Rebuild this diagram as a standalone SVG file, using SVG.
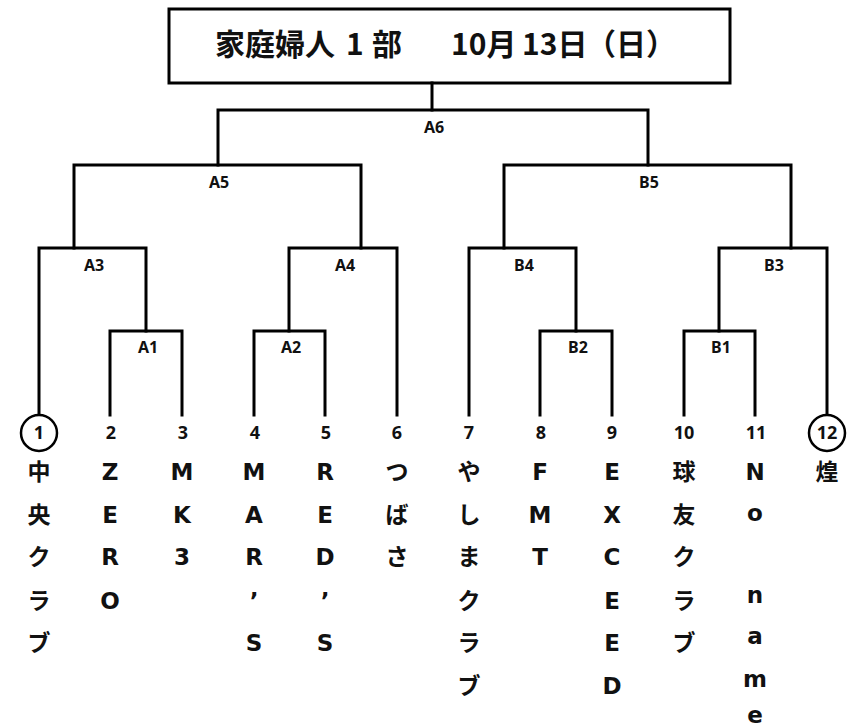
<svg xmlns="http://www.w3.org/2000/svg" width="850" height="728" viewBox="0 0 850 728">
<style>
.ln{stroke:#000;stroke-width:3;fill:none;stroke-linecap:square}
.box{stroke:#000;stroke-width:3;fill:#fff}
.circ{stroke:#000;stroke-width:2.5;fill:#fff}
text{font-weight:bold;fill:#111;text-anchor:middle}
.title{font-family:"Noto Sans CJK JP",sans-serif;font-size:30px;text-anchor:start}
.lbl{font-family:"Noto Sans","Noto Sans CJK JP",sans-serif;font-size:16px}
.num{font-family:"Noto Sans","Noto Sans CJK JP",sans-serif;font-size:18px}
.nm{font-family:"DejaVu Sans","Noto Sans CJK JP",sans-serif;font-size:23px}
</style>
<rect width="850" height="728" fill="#fff"/>
<g id="title">
<rect class="box" x="169" y="9" width="561" height="74"/>
<text class="title" x="215" y="55">家庭婦人</text>
<text class="title" x="346" y="55">1</text>
<text class="title" x="372" y="55">部</text>
<text class="title" x="451" y="55">10月</text>
<text class="title" x="522" y="55">13日</text>
<text class="title" x="586" y="55">（日）</text>
</g>
<g id="connectors">
<path class="ln" d="M432 83V110"/>
<path class="ln" d="M218 165V110H648V165"/>
<path class="ln" d="M74 248V165H361V248"/>
<path class="ln" d="M504 248V165H791V248"/>
<path class="ln" d="M39 415V248H146V331"/>
<path class="ln" d="M110 415V331H182V415"/>
<path class="ln" d="M289 331V248H397V415"/>
<path class="ln" d="M254 415V331H325V415"/>
<path class="ln" d="M469 415V248H576V331"/>
<path class="ln" d="M540 415V331H612V415"/>
<path class="ln" d="M719 331V248H827V415"/>
<path class="ln" d="M684 415V331H755V415"/>
</g>
<g id="matches">
<g id="m-A6"><text class="lbl" x="434" y="133">A6</text></g>
<g id="m-A5"><text class="lbl" x="219" y="188">A5</text></g>
<g id="m-B5"><text class="lbl" x="649" y="188">B5</text></g>
<g id="m-A3"><text class="lbl" x="94" y="271">A3</text></g>
<g id="m-A4"><text class="lbl" x="345" y="271">A4</text></g>
<g id="m-B4"><text class="lbl" x="524" y="271">B4</text></g>
<g id="m-B3"><text class="lbl" x="774" y="271">B3</text></g>
<g id="m-A1"><text class="lbl" x="148" y="353">A1</text></g>
<g id="m-A2"><text class="lbl" x="291" y="353">A2</text></g>
<g id="m-B2"><text class="lbl" x="578" y="353">B2</text></g>
<g id="m-B1"><text class="lbl" x="721" y="353">B1</text></g>
</g>
<g id="team1"><circle class="circ" cx="39" cy="433" r="18"/><text class="num" x="39" y="439">1</text>
<text class="nm" x="39" y="480">中</text><text class="nm" x="39" y="523">央</text><text class="nm" x="39" y="565">ク</text><text class="nm" x="39" y="609">ラ</text><text class="nm" x="39" y="651">ブ</text></g>
<g id="team2"><text class="num" x="111" y="439">2</text>
<text class="nm" x="110" y="480">Z</text><text class="nm" x="110" y="523">E</text><text class="nm" x="110" y="565">R</text><text class="nm" x="110" y="609">O</text></g>
<g id="team3"><text class="num" x="183" y="439">3</text>
<text class="nm" x="182" y="480">M</text><text class="nm" x="182" y="523">K</text><text class="nm" x="182" y="565">3</text></g>
<g id="team4"><text class="num" x="255" y="439">4</text>
<text class="nm" x="254" y="480">M</text><text class="nm" x="254" y="523">A</text><text class="nm" x="254" y="565">R</text><text class="nm" x="254" y="609">’</text><text class="nm" x="254" y="651">S</text></g>
<g id="team5"><text class="num" x="326" y="439">5</text>
<text class="nm" x="325" y="480">R</text><text class="nm" x="325" y="523">E</text><text class="nm" x="325" y="565">D</text><text class="nm" x="325" y="609">’</text><text class="nm" x="325" y="651">S</text></g>
<g id="team6"><text class="num" x="397" y="439">6</text>
<text class="nm" x="397" y="480">つ</text><text class="nm" x="397" y="523">ば</text><text class="nm" x="397" y="565">さ</text></g>
<g id="team7"><text class="num" x="469" y="439">7</text>
<text class="nm" x="469" y="480">や</text><text class="nm" x="469" y="523">し</text><text class="nm" x="469" y="565">ま</text><text class="nm" x="469" y="609">ク</text><text class="nm" x="469" y="651">ラ</text><text class="nm" x="469" y="694">ブ</text></g>
<g id="team8"><text class="num" x="541" y="439">8</text>
<text class="nm" x="540" y="480">F</text><text class="nm" x="540" y="523">M</text><text class="nm" x="540" y="565">T</text></g>
<g id="team9"><text class="num" x="612" y="439">9</text>
<text class="nm" x="612" y="480">E</text><text class="nm" x="612" y="523">X</text><text class="nm" x="612" y="565">C</text><text class="nm" x="612" y="609">E</text><text class="nm" x="612" y="651">E</text><text class="nm" x="612" y="694">D</text></g>
<g id="team10"><text class="num" x="684" y="439">10</text>
<text class="nm" x="684" y="480">球</text><text class="nm" x="684" y="523">友</text><text class="nm" x="684" y="565">ク</text><text class="nm" x="684" y="609">ラ</text><text class="nm" x="684" y="651">ブ</text></g>
<g id="team11"><text class="num" x="756" y="439">11</text>
<text class="nm" x="755" y="480">N</text><text class="nm" x="755" y="521">o</text><text class="nm" x="755" y="603">n</text><text class="nm" x="755" y="644">a</text><text class="nm" x="755" y="687">m</text><text class="nm" x="755" y="723">e</text></g>
<g id="team12"><circle class="circ" cx="827" cy="433" r="18"/><text class="num" x="827" y="439">12</text>
<text class="nm" x="827" y="480">煌</text></g>
</svg>
